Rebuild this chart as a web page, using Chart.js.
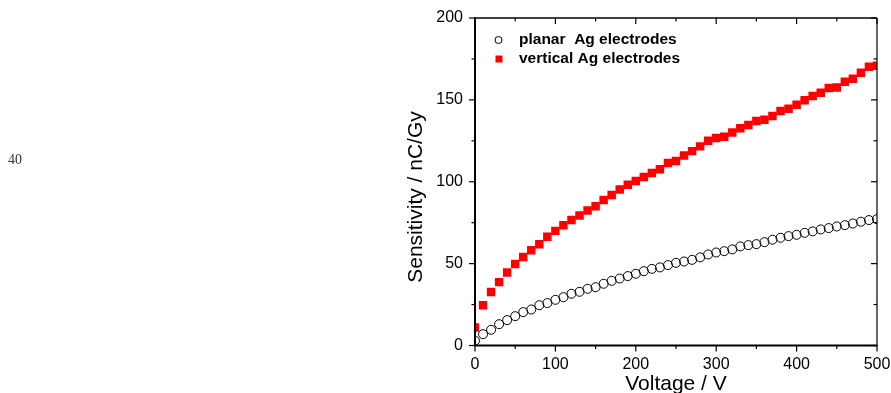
<!DOCTYPE html>
<html>
<head>
<meta charset="utf-8">
<script src="https://cdn.jsdelivr.net/npm/chart.js@4/dist/chart.umd.min.js"></script>
<style>
html,body{margin:0;padding:0;background:#fff;}
#wrap{position:relative;width:891px;height:393px;}
#side{position:absolute;left:8px;top:152px;font:14px "Liberation Serif","Times New Roman",serif;color:#333;}
</style>
</head>
<body>
<div id="wrap">
<canvas id="c" width="891" height="393"></canvas>
<div id="side">40</div>
</div>
<script>
const voltage = [0,10,20,30,40,50,60,70,80,90,100,110,120,130,140,150,160,170,180,190,200,210,220,230,240,250,260,270,280,290,300,310,320,330,340,350,360,370,380,390,400,410,420,430,440,450,460,470,480,490,500];
const planar = [2.9,6.9,9.6,13,15.5,17.9,20.4,22,24.6,25.9,27.9,29.5,31.6,32.8,34.6,35.6,37.7,39.5,40.9,42.4,43.8,45.4,46.8,47.7,49.1,50.5,51.3,52.3,53.8,55.6,56.8,57.6,58.7,60.5,61.3,61.9,63.1,64.6,65.8,66.8,67.6,68.8,69.7,70.9,71.7,72.7,73.5,74.5,75.6,76.6,77.2];
const vertical = [11,24.6,32.6,38.7,44.6,49.7,54,58.2,61.9,66.4,70,73.5,76.6,79.4,82.5,85.1,88.8,91.9,95.3,98.2,100.4,102.9,105.3,107.7,111.4,112.6,116.1,118.7,121.6,125,126.7,127.5,130.1,132.6,134.6,137.1,137.9,140.1,143.2,144.6,147,149.7,152.3,154.4,157.2,157.6,161.1,162.9,166.6,170.3,170.9];
const seriesNames = ["planar  Ag electrodes","vertical Ag electrodes"];
const xTitle = "Voltage / V";
const yTitle = "Sensitivity / nC/Gy";
const xMajor = [0,100,200,300,400,500];
const xMinor = [50,150,250,350,450];
const yMajor = [0,50,100,150,200];
const yMinor = [25,75,125,175];

const pts = (ys) => voltage.map((v,i)=>({x:v,y:ys[i]}));

const framePlugin = {
  id:'frame',
  afterDraw(chart){
    const ctx = chart.ctx, a = chart.chartArea;
    const xs = chart.scales.x, ys = chart.scales.y;
    ctx.save();
    ctx.strokeStyle = '#000';
    ctx.lineWidth = 1.5;
    ctx.beginPath(); ctx.moveTo(a.left, a.top); ctx.lineTo(a.right, a.top); ctx.stroke();
    ctx.lineWidth = 1.2;
    ctx.beginPath(); ctx.moveTo(a.right, a.top); ctx.lineTo(a.right, a.bottom); ctx.stroke();
    ctx.lineWidth = 2;
    ctx.beginPath(); ctx.moveTo(a.left, a.top-0.75); ctx.lineTo(a.left, a.bottom); ctx.lineTo(a.right+0.6, a.bottom); ctx.stroke();
    ctx.lineWidth = 1.2;
    const xt = (vals, len) => vals.forEach(v=>{
      const p = xs.getPixelForValue(v);
      ctx.beginPath(); ctx.moveTo(p, a.bottom); ctx.lineTo(p, a.bottom+len); ctx.stroke();
      ctx.beginPath(); ctx.moveTo(p, a.top); ctx.lineTo(p, a.top+len); ctx.stroke();
    });
    xt(xMajor, 6); xt(xMinor, 3.5);
    const yt = (vals, len) => vals.forEach(v=>{
      const p = ys.getPixelForValue(v);
      ctx.beginPath(); ctx.moveTo(a.left, p); ctx.lineTo(a.left-len, p); ctx.stroke();
      ctx.beginPath(); ctx.moveTo(a.right, p); ctx.lineTo(a.right-len, p); ctx.stroke();
    });
    yt(yMajor, 6); yt(yMinor, 3.5);
    ctx.fillStyle = '#000';
    ctx.font = '21px "Liberation Sans", Arial, sans-serif';
    ctx.textAlign = 'center'; ctx.textBaseline = 'alphabetic';
    ctx.fillText(xTitle, (a.left+a.right)/2, 390);
    ctx.save();
    ctx.translate(422, 197);
    ctx.rotate(-Math.PI/2);
    ctx.fillText(yTitle, 0, 0);
    ctx.restore();
    const ds = chart.data.datasets;
    ctx.font = 'bold 15.5px "Liberation Sans", Arial, sans-serif';
    ctx.textAlign = 'left'; ctx.textBaseline = 'middle';
    const rows = [40, 59];
    ctx.lineWidth = 1;
    ctx.strokeStyle = ds[0].pointBorderColor;
    ctx.beginPath(); ctx.arc(498.5, rows[0], 3.5, 0, Math.PI*2); ctx.stroke();
    ctx.fillStyle = ds[1].pointBackgroundColor;
    ctx.fillRect(495.5, rows[1]-3.5, 7, 7);
    ctx.fillStyle = '#000';
    ctx.fillText(ds[0].label, 519, rows[0]);
    ctx.fillText(ds[1].label, 519, rows[1]);
    ctx.restore();
  }
};

new Chart(document.getElementById('c'), {
  type:'scatter',
  data:{datasets:[
    {label:seriesNames[0], data:pts(planar), pointStyle:'circle', pointRadius:4.5, pointBorderWidth:1, pointBorderColor:'#000', pointBackgroundColor:'rgba(255,255,255,0)', clip:0, showLine:false},
    {label:seriesNames[1], data:pts(vertical), pointStyle:'rect', pointRadius:6, pointBorderWidth:0, pointBorderColor:'#ff0000', pointBackgroundColor:'#ff0000', clip:0, showLine:false}
  ]},
  options:{
    responsive:false, animation:false, events:[],
    layout:{padding:{left:400, top:18, right:14, bottom:0}},
    plugins:{legend:{display:false}, tooltip:{enabled:false}},
    scales:{
      x:{type:'linear', min:0, max:500,
        afterFit(s){ s.height = 47.5; s.paddingLeft = 0; s.paddingRight = 0; },
        ticks:{stepSize:100, color:'#000', font:{family:'"Liberation Sans", Arial, sans-serif', size:16}, padding:1, maxRotation:0},
        grid:{display:false}, border:{display:false}},
      y:{type:'linear', min:0, max:200,
        afterFit(s){ s.width = 75; s.paddingTop = 0; s.paddingBottom = 0; },
        ticks:{stepSize:50, color:'#000', font:{family:'"Liberation Sans", Arial, sans-serif', size:16}, padding:4},
        grid:{display:false}, border:{display:false}}
    }
  },
  plugins:[framePlugin]
});
</script>
</body>
</html>
